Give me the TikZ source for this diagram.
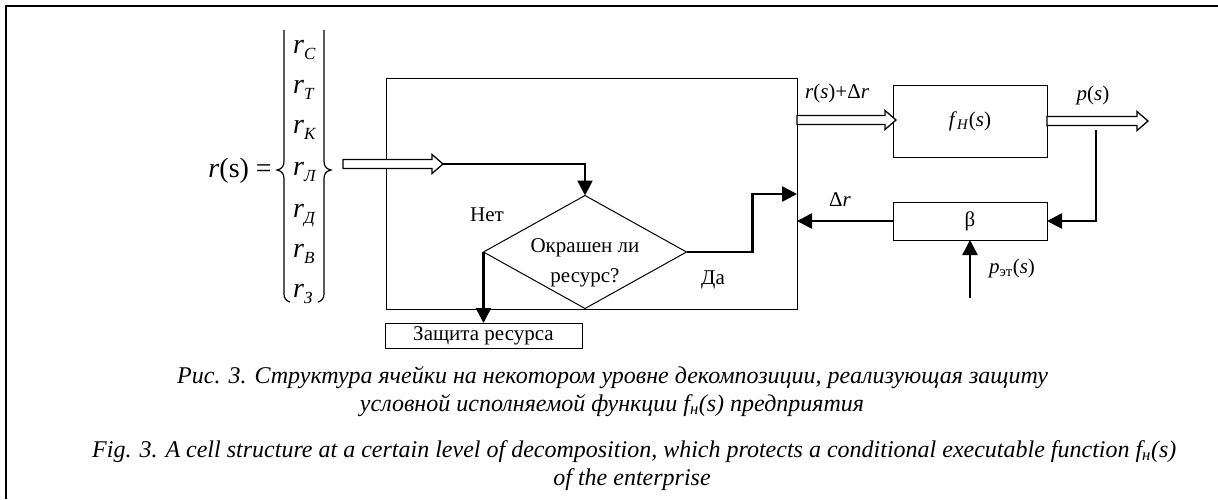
\documentclass[tikz,border=0pt]{standalone}
\usepackage{fontspec}
\setmainfont{Liberation Serif}
\usetikzlibrary{arrows.meta,shapes.geometric,calc}
\newcommand\hollowarrow[2]{%
  \draw[hollowstyle] let \p1=#1, \p2=#2 in
   (\x1,{\y1+4.5pt}) -- ({\x2-11pt},{\y1+4.5pt}) -- ({\x2-11pt},{\y1+9.5pt}) -- (\x2,\y1)
   -- ({\x2-11pt},{\y1-9.5pt}) -- ({\x2-11pt},{\y1-4.5pt}) -- (\x1,{\y1-4.5pt}) -- cycle;}
\newcommand\sbx[1]{\raisebox{-6pt}{\fontsize{17}{17}\selectfont #1}}
\tikzset{
  box/.style={draw, line width=1pt, inner sep=0pt, outer sep=0pt},
  lbl/.style={font=\fontsize{21}{30}\selectfont, inner sep=0pt},
  vec/.style={font=\fontsize{28}{30}\selectfont, inner sep=0pt, anchor=base west},
  captxt/.style={font=\fontsize{24}{28}\selectfont\itshape, inner sep=0pt, anchor=base west},
  flow/.style={line width=2.6pt, -{Triangle[length=15pt,width=15pt]}},
  hollowstyle/.style={line width=1.3pt, fill=white, line join=miter},
  bracestyle/.style={line width=1.2pt},
}
\begin{document}
\begin{tikzpicture}[x=1pt,y=-1pt]
\useasboundingbox (0,0) rectangle (1218,499);
% outer frame
\draw[line width=2pt] (6,499) -- (6,6) -- (1218,6);

% vector
\node[font=\fontsize{28}{30}\selectfont, inner sep=0pt, anchor=base east] (rs) at (272,177) {\textit{r}(s) =};
\draw[bracestyle] (284,30) -- (284,161) .. controls (284,166) and (282,169) .. (277,170)
   .. controls (282,171) and (284,174) .. (284,179) -- (284,294) .. controls (284,298) and (286,301) .. (290,302);
\draw[bracestyle] (324,30) -- (324,161) .. controls (324,166) and (326,169) .. (331,170)
   .. controls (326,171) and (324,174) .. (324,179) -- (324,294) .. controls (324,298) and (322,301) .. (318,302);
\node[vec] (v1) at (293,53) {\textit{r}\sbx{\textit{С}}};
\node[vec] (v2) at (293,93) {\textit{r}\sbx{\textit{Т}}};
\node[vec] (v3) at (293,133) {\textit{r}\sbx{\textit{К}}};
\node[vec] (v4) at (293,175) {\textit{r}\sbx{\textit{Л}}};
\node[vec] (v5) at (293,217) {\textit{r}\sbx{\textit{Д}}};
\node[vec] (v6) at (293,257) {\textit{r}\sbx{\textit{В}}};
\node[vec] (v7) at (293,297) {\textit{r}\sbx{\textit{З}}};

% boxes
\node[box, anchor=north west, minimum width=411pt, minimum height=231pt] (cell) at (386,78) {};
\node[box, minimum width=154pt, minimum height=72pt, lbl] (fh) at (970,121) {\textit{f}\textsubscript{\textit{Н}}(\textit{s})};
\node[box, minimum width=154pt, minimum height=38pt, lbl] (beta) at (970,221) {β};
\node[box, minimum width=197pt, minimum height=25pt, lbl] (prot) at (483.5,335.5) {Защита ресурса};
\node[draw, diamond, line width=1pt, minimum width=203pt, minimum height=113pt, inner sep=0pt, outer sep=0pt] (dec) at (585,252) {};
\node[lbl, align=center] (dect) at (585,263) {Окрашен ли\\ресурс?};

% coordinates
\coordinate (inA) at (343,164);
\coordinate (inB) at (443,164);
\coordinate (outA) at (797,120);
\coordinate (outB) at (896,120);
\coordinate (pA) at (1047,121);
\coordinate (pB) at (1148,121);
\coordinate (fb) at (1096,130);
\coordinate (yesin) at (797,194);
\coordinate (pet) at (970,298);

% hollow arrows
\hollowarrow{(inA)}{(inB)}
\hollowarrow{(outA)}{(outB)}
\hollowarrow{(pA)}{(pB)}

% flows
\draw[flow] (inB) -| (dec.north);
\draw[flow] (dec.west) -- (prot.north);
\draw[flow] (dec.east) -- ++(66,0) |- (yesin);
\draw[flow] (beta.west) -- (beta.west -| cell.east);
\draw[flow] (fb) |- (beta.east);
\draw[flow] (pet) -- (beta.south);

% labels
\node[lbl] (no) at (487,215) {Нет};
\node[lbl] (yes) at (713,280) {Да};
\node[lbl] (l1) at (837,93) {\textit{r}(\textit{s})+Δ\textit{r}};
\node[lbl] (l2) at (1093,95) {\textit{p}(\textit{s})};
\node[lbl] (l3) at (840,200) {Δ\textit{r}};
\node[lbl] (l4) at (1012,268) {\textit{p}\textsubscript{эт}(\textit{s})};

% captions
\node[captxt] (c1) at (177,383) {Рис. 3. Структура ячейки на некотором уровне декомпозиции, реализующая защиту};
\node[captxt, anchor=base] (c2) at (612,411) {условной исполняемой функции \textit{f}\textsubscript{н}(\textit{s}) предприятия};
\node[captxt] (c3) at (92,457) {Fig. 3. A cell structure at a certain level of decomposition, which protects a conditional executable function \textit{f}\textsubscript{н}(\textit{s})};
\node[captxt, anchor=base] (c4) at (632,485) {of the enterprise};
\end{tikzpicture}
\end{document}
